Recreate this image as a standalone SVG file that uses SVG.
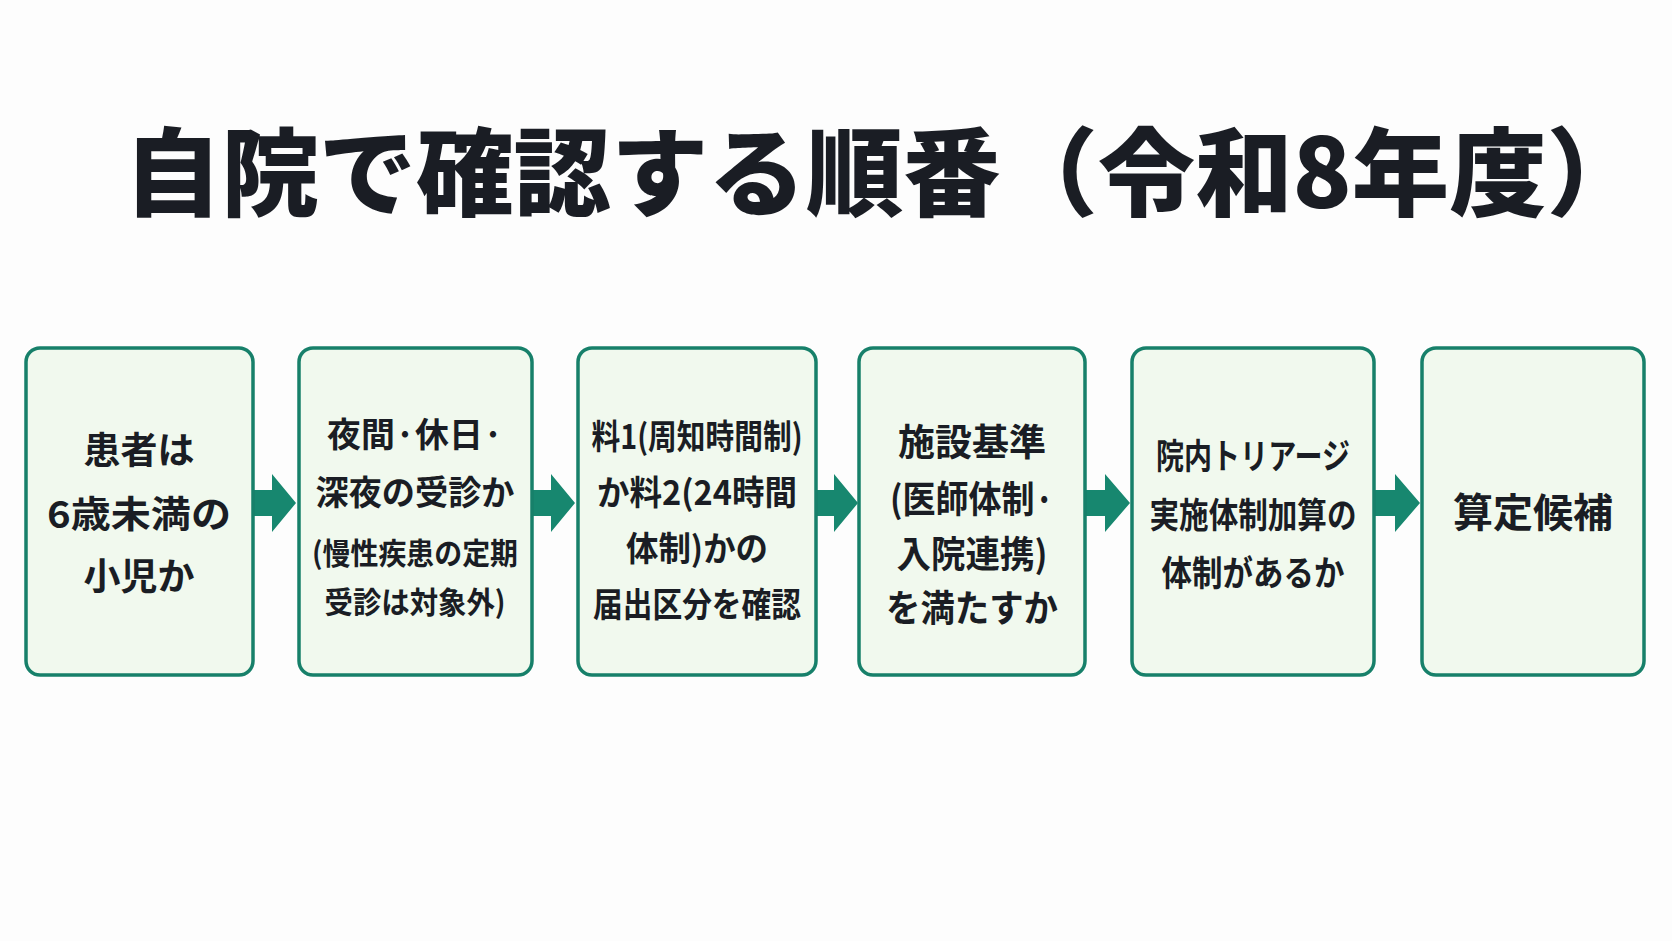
<svg xmlns="http://www.w3.org/2000/svg" width="1672" height="941" viewBox="0 0 1672 941">
<style>
.box{fill:#f1f9ee;stroke:#17806a;stroke-width:3.5}
.t{font-family:"Noto Sans CJK JP","Noto Sans",sans-serif;font-weight:700;fill:#1a1d24;text-anchor:middle;dominant-baseline:central;font-size:37px}
.s{font-size:30px}
.ar{fill:#17876f}
</style>
<rect width="1672" height="941" fill="#fdfdfd"/>
<text x="884" y="166" class="t" style="font-size:96px;font-weight:900" textLength="1520" lengthAdjust="spacingAndGlyphs">自院で確認する順番（令和8年度）</text>
<g id="connectors">
<polygon class="ar" points="254,490 272,490 272,474 296,503 272,532 272,516 254,516"/>
<polygon class="ar" points="533,490 551,490 551,474 575,503 551,532 551,516 533,516"/>
<polygon class="ar" points="817,490 834,490 834,474 858,503 834,532 834,516 817,516"/>
<polygon class="ar" points="1086,490 1105,490 1105,474 1130,503 1105,532 1105,516 1086,516"/>
<polygon class="ar" points="1375,490 1395,490 1395,474 1420,503 1395,532 1395,516 1375,516"/>
</g>
<g id="n1"><rect class="box" x="26" y="348" width="227" height="327" rx="14"/>
<text class="t" x="139" y="448">患者は</text><text class="t" x="139" y="512" textLength="184" lengthAdjust="spacingAndGlyphs">6歳未満の</text><text class="t" x="139" y="574">小児か</text></g>
<g id="n2"><rect class="box" x="299" y="348" width="233" height="327" rx="14"/>
<text class="t" x="415" y="432" style="font-size:34px" textLength="176" lengthAdjust="spacingAndGlyphs">夜間·休日·</text><text class="t" x="415" y="490" style="font-size:34px" textLength="199" lengthAdjust="spacingAndGlyphs">深夜の受診か</text><text class="t s" x="415" y="551" textLength="206" lengthAdjust="spacingAndGlyphs">(慢性疾患の定期</text><text class="t s" x="415" y="600" textLength="181" lengthAdjust="spacingAndGlyphs">受診は対象外)</text></g>
<g id="n3"><rect class="box" x="578" y="348" width="238" height="327" rx="14"/>
<text class="t" x="697" y="434" style="font-size:34px" textLength="211" lengthAdjust="spacingAndGlyphs">料1(周知時間制)</text><text class="t" x="697" y="490" style="font-size:34px" textLength="200" lengthAdjust="spacingAndGlyphs">か料2(24時間</text><text class="t" x="697" y="546" style="font-size:34px" textLength="142" lengthAdjust="spacingAndGlyphs">体制)かの</text><text class="t" x="697" y="602" style="font-size:34px" textLength="208" lengthAdjust="spacingAndGlyphs">届出区分を確認</text></g>
<g id="n4"><rect class="box" x="859" y="348" width="226" height="327" rx="14"/>
<text class="t" x="972" y="440">施設基準</text><text class="t" x="972" y="497" textLength="164" lengthAdjust="spacingAndGlyphs">(医師体制·</text><text class="t" x="972" y="552" textLength="151" lengthAdjust="spacingAndGlyphs">入院連携)</text><text class="t" x="972" y="606" textLength="172" lengthAdjust="spacingAndGlyphs">を満たすか</text></g>
<g id="n5"><rect class="box" x="1132" y="348" width="242" height="327" rx="14"/>
<text class="t" x="1253" y="453" style="font-size:35px" textLength="194" lengthAdjust="spacingAndGlyphs">院内トリアージ</text><text class="t" x="1253" y="512" style="font-size:35px" textLength="207" lengthAdjust="spacingAndGlyphs">実施体制加算の</text><text class="t" x="1253" y="570" style="font-size:35px" textLength="183" lengthAdjust="spacingAndGlyphs">体制があるか</text></g>
<g id="n6"><rect class="box" x="1422" y="348" width="222" height="327" rx="14"/>
<text class="t" x="1533" y="510" style="font-size:40px">算定候補</text></g>
</svg>
